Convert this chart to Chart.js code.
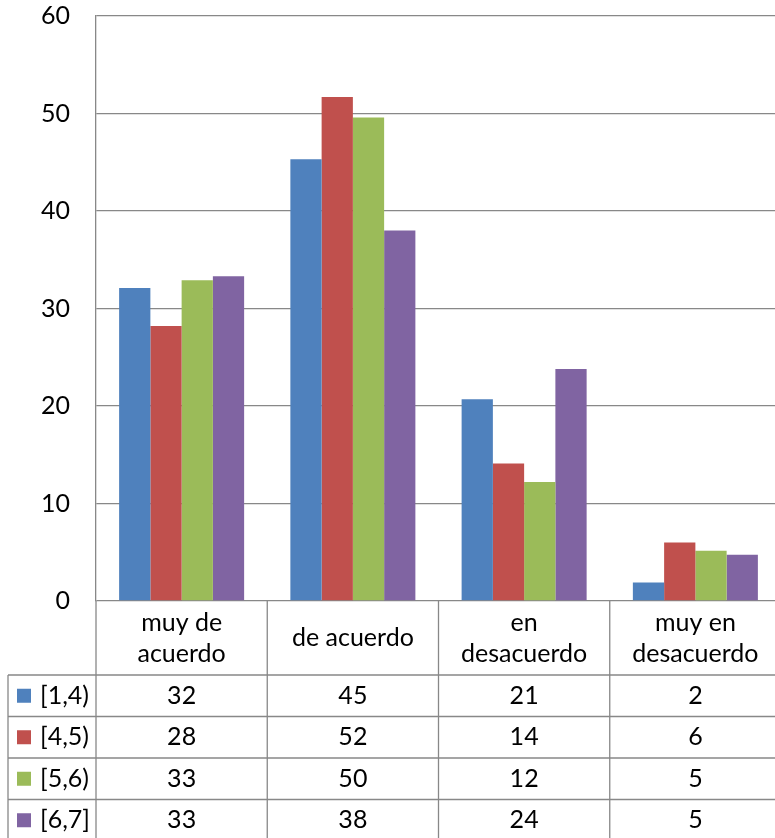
<!DOCTYPE html>
<html>
<head>
<meta charset="utf-8">
<script src="https://cdn.jsdelivr.net/npm/chart.js@4"></script>
<style>
  body { margin: 0; background: #fff; overflow: hidden; }
  #wrap { width: 781px; height: 838px; position: relative; }
</style>
</head>
<body>
<div id="wrap"><canvas id="acuerdoChart"></canvas></div>
<script>
const categories = [['muy de', 'acuerdo'], ['de acuerdo'], ['en', 'desacuerdo'], ['muy en', 'desacuerdo']];
const seriesLabels = ['[1,4)', '[4,5)', '[5,6)', '[6,7]'];
const values14 = [32.1, 45.3, 20.7, 1.9];
const values45 = [28.2, 51.7, 14.1, 6.0];
const values56 = [32.9, 49.6, 12.2, 5.15];
const values67 = [33.3, 38.0, 23.8, 4.75];
const seriesColors = ['#4F81BD', '#C0504D', '#9BBB59', '#8064A2'];
const yTicks = [0, 10, 20, 30, 40, 50, 60];

const FONT = 'Lato, "Open Sans", sans-serif';
const LINE = '#888888';

// data table drawn under the plot, columns follow the x scale
const dataTablePlugin = {
  id: 'dataTable',
  afterDraw(chart) {
    const { ctx, chartArea, scales } = chart;
    const x = scales.x;
    const top = chartArea.bottom;
    const bottom = chart.height + 2;
    const headerH = 74, rowH = 41.5, tableLeft = 8;
    const step = x.getPixelForValue(1) - x.getPixelForValue(0);
    const edges = categories.map((_, i) => x.getPixelForValue(i) - step / 2);
    edges.push(x.getPixelForValue(categories.length - 1) + step / 2);

    ctx.save();
    ctx.strokeStyle = LINE;
    ctx.lineWidth = 1.3;
    ctx.beginPath();
    edges.forEach(ex => { ctx.moveTo(ex, top); ctx.lineTo(ex, bottom); });
    ctx.moveTo(tableLeft, top + headerH); ctx.lineTo(tableLeft, bottom);
    for (let k = 0; k < seriesLabels.length; k++) {
      const y = top + headerH + k * rowH;
      ctx.moveTo(tableLeft, y); ctx.lineTo(chartArea.right, y);
    }
    ctx.stroke();

    ctx.fillStyle = '#000';
    ctx.font = '25px ' + FONT;
    ctx.textAlign = 'center';
    ctx.textBaseline = 'middle';
    categories.forEach((lines, i) => {
      const cx = x.getPixelForValue(i);
      const cy = top + headerH / 2;
      lines.forEach((ln, j) => {
        ctx.fillText(ln, cx, cy + (j - (lines.length - 1) / 2) * 31);
      });
    });

    chart.data.datasets.forEach((ds, k) => {
      const cy = top + headerH + (k + 0.5) * rowH;
      ctx.fillStyle = ds.backgroundColor;
      ctx.fillRect(17, cy - 7, 14, 14);
      ctx.fillStyle = '#000';
      ctx.textAlign = 'left';
      ctx.fillText(ds.label, 40, cy);
      ctx.textAlign = 'center';
      ds.data.forEach((v, i) => {
        ctx.fillText(String(Math.round(v)), x.getPixelForValue(i), cy);
      });
    });
    ctx.restore();
  }
};

const seriesValues = [values14, values45, values56, values67];

new Chart(document.getElementById('acuerdoChart'), {
  type: 'bar',
  data: {
    labels: categories,
    datasets: seriesLabels.map((label, i) => ({
      label: label,
      data: seriesValues[i],
      backgroundColor: seriesColors[i],
      borderWidth: 0,
      categoryPercentage: 0.73,
      barPercentage: 1.0
    }))
  },
  options: {
    responsive: true,
    maintainAspectRatio: false,
    animation: false,
    layout: { padding: { top: 16, right: 0, bottom: 237, left: 0 } },
    scales: {
      x: { display: false },
      y: {
        min: 0,
        max: 60,
        afterBuildTicks: scale => { scale.ticks = yTicks.map(v => ({ value: v })); },
        afterFit: scale => {
          scale.width = 96;
          scale.paddingTop = 0;
          scale.paddingBottom = 0;
        },
        ticks: { font: { size: 25, family: FONT }, color: '#000', padding: 26 },
        grid: { color: LINE, lineWidth: 1.3, drawTicks: false },
        border: { display: true, color: LINE, width: 1.3 }
      }
    },
    plugins: {
      legend: { display: false },
      tooltip: { enabled: false }
    }
  },
  plugins: [dataTablePlugin]
});
</script>
</body>
</html>
